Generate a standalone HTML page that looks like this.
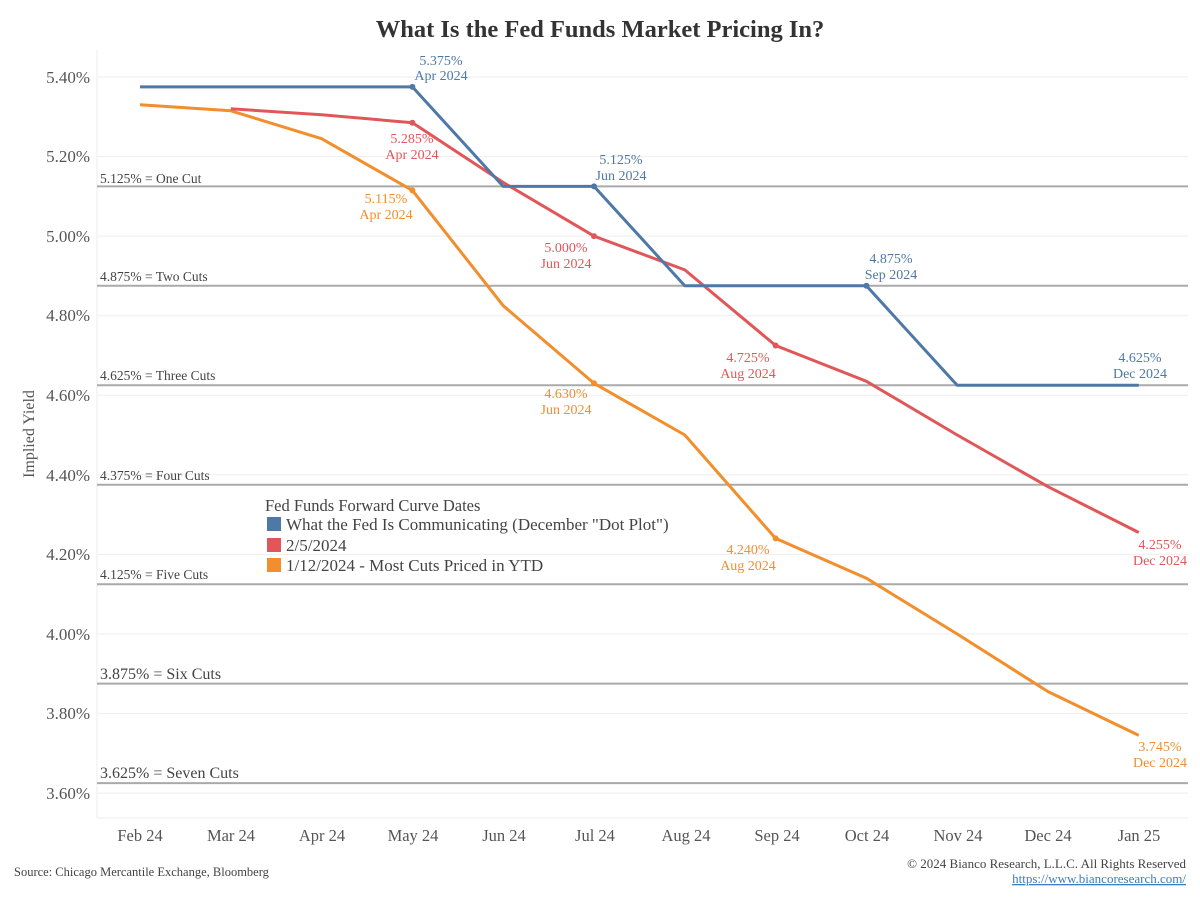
<!DOCTYPE html>
<html><head><meta charset="utf-8"><style>
body{margin:0;background:#fff}
svg{display:block;font-family:"Liberation Serif","DejaVu Serif",serif}
</style></head><body>
<svg width="1200" height="900" viewBox="0 0 1200 900" xmlns="http://www.w3.org/2000/svg">
<text x="600" y="37" text-anchor="middle" font-size="24.5" font-weight="bold" fill="#333">What Is the Fed Funds Market Pricing In?</text>
<g stroke="#eeeeee" stroke-width="1">
<line x1="97" x2="1188" y1="77" y2="77"/><line x1="97" x2="1188" y1="156.6" y2="156.6"/><line x1="97" x2="1188" y1="236.1" y2="236.1"/><line x1="97" x2="1188" y1="315.7" y2="315.7"/><line x1="97" x2="1188" y1="395.2" y2="395.2"/><line x1="97" x2="1188" y1="474.8" y2="474.8"/><line x1="97" x2="1188" y1="554.4" y2="554.4"/><line x1="97" x2="1188" y1="634" y2="634"/><line x1="97" x2="1188" y1="713.5" y2="713.5"/><line x1="97" x2="1188" y1="793.1" y2="793.1"/>
<line x1="97" x2="97" y1="50" y2="818"/><line x1="97" x2="1188" y1="818" y2="818"/>
</g>
<g font-size="17" fill="#555" text-anchor="end">
<text x="90" y="83">5.40%</text><text x="90" y="162">5.20%</text><text x="90" y="242">5.00%</text><text x="90" y="321">4.80%</text><text x="90" y="401">4.60%</text><text x="90" y="481">4.40%</text><text x="90" y="560">4.20%</text><text x="90" y="640">4.00%</text><text x="90" y="719">3.80%</text><text x="90" y="799">3.60%</text>
</g>
<text transform="translate(34,434) rotate(-90)" text-anchor="middle" font-size="16" fill="#555">Implied Yield</text>
<g stroke="#aaaaaa" stroke-width="2">
<line x1="97" x2="1188" y1="186.4" y2="186.4"/><line x1="97" x2="1188" y1="285.8" y2="285.8"/><line x1="97" x2="1188" y1="385.3" y2="385.3"/><line x1="97" x2="1188" y1="484.7" y2="484.7"/><line x1="97" x2="1188" y1="584.2" y2="584.2"/><line x1="97" x2="1188" y1="683.6" y2="683.6"/><line x1="97" x2="1188" y1="783.1" y2="783.1"/>
</g>
<g font-size="13.5" fill="#444">
<text x="100" y="183">5.125% = One Cut</text><text x="100" y="281">4.875% = Two Cuts</text><text x="100" y="380">4.625% = Three Cuts</text><text x="100" y="480">4.375% = Four Cuts</text><text x="100" y="579">4.125% = Five Cuts</text>
<text x="100" y="679" font-size="16">3.875% = Six Cuts</text><text x="100" y="778" font-size="16">3.625% = Seven Cuts</text>
</g>
<g font-size="16.5" fill="#555" text-anchor="middle">
<text x="140" y="841">Feb 24</text><text x="231" y="841">Mar 24</text><text x="322" y="841">Apr 24</text><text x="413" y="841">May 24</text><text x="504" y="841">Jun 24</text><text x="595" y="841">Jul 24</text><text x="686" y="841">Aug 24</text><text x="777" y="841">Sep 24</text><text x="867" y="841">Oct 24</text><text x="958" y="841">Nov 24</text><text x="1048" y="841">Dec 24</text><text x="1139" y="841">Jan 25</text>
</g>
<polyline fill="none" stroke="#f28e2b" stroke-width="3" stroke-linejoin="round" points="140,104.8 230.8,110.8 321.6,138.7 412.4,190.4 503.2,305.7 594,383.3 684.8,435 775.6,538.4 866.4,578.2 957.2,634 1048,691.6 1138.8,735.4"/>
<polyline fill="none" stroke="#e15759" stroke-width="3" stroke-linejoin="round" points="230.8,108.8 321.6,114.8 412.4,122.7 503.2,182.4 594,236.1 684.8,269.9 775.6,345.5 866.4,381.3 957.2,435 1048,486.7 1138.8,532.5"/>
<polyline fill="none" stroke="#4e79a7" stroke-width="3" stroke-linejoin="round" points="140,86.9 412.4,86.9 503.2,186.4 594,186.4 684.8,285.8 866.4,285.8 957.2,385.3 1138.8,385.3"/>
<g fill="#4e79a7"><circle cx="412.4" cy="86.9" r="3"/><circle cx="594" cy="186.4" r="3"/><circle cx="866.4" cy="285.8" r="3"/></g>
<g fill="#e15759"><circle cx="412.4" cy="122.7" r="3"/><circle cx="594" cy="236.1" r="3"/><circle cx="775.6" cy="345.5" r="3"/></g>
<g fill="#f28e2b"><circle cx="412.4" cy="190.4" r="3"/><circle cx="594" cy="383.3" r="3"/><circle cx="775.6" cy="538.4" r="3"/></g>
<g font-size="14" text-anchor="middle">
<g fill="#4e79a7"><text x="441" y="65">5.375%</text><text x="441" y="80">Apr 2024</text><text x="621" y="164">5.125%</text><text x="621" y="180">Jun 2024</text><text x="891" y="263">4.875%</text><text x="891" y="279">Sep 2024</text><text x="1140" y="362">4.625%</text><text x="1140" y="378">Dec 2024</text></g>
<g fill="#e15759"><text x="412" y="143">5.285%</text><text x="412" y="159">Apr 2024</text><text x="566" y="252">5.000%</text><text x="566" y="268">Jun 2024</text><text x="748" y="362">4.725%</text><text x="748" y="378">Aug 2024</text><text x="1160" y="549">4.255%</text><text x="1160" y="565">Dec 2024</text></g>
<g fill="#f28e2b"><text x="386" y="203">5.115%</text><text x="386" y="219">Apr 2024</text><text x="566" y="398">4.630%</text><text x="566" y="414">Jun 2024</text><text x="748" y="554">4.240%</text><text x="748" y="570">Aug 2024</text><text x="1160" y="751">3.745%</text><text x="1160" y="767">Dec 2024</text></g>
</g>
<g font-size="17" fill="#444">
<text x="265" y="511" font-size="16.5">Fed Funds Forward Curve Dates</text>
<rect x="267" y="517" width="14" height="14" fill="#4e79a7"/><text x="286" y="530">What the Fed Is Communicating (December "Dot Plot")</text>
<rect x="267" y="538" width="14" height="14" fill="#e15759"/><text x="286" y="551">2/5/2024</text>
<rect x="267" y="558" width="14" height="14" fill="#f28e2b"/><text x="286" y="571">1/12/2024 - Most Cuts Priced in YTD</text>
</g>
<text x="14" y="876" font-size="12.5" fill="#444">Source: Chicago Mercantile Exchange, Bloomberg</text>
<text x="1186" y="868" font-size="13" fill="#444" text-anchor="end">© 2024 Bianco Research, L.L.C. All Rights Reserved</text>
<text x="1186" y="883" font-size="13" fill="#3a7dc0" text-anchor="end" text-decoration="underline">https://www.biancoresearch.com/</text>
</svg>
</body></html>
